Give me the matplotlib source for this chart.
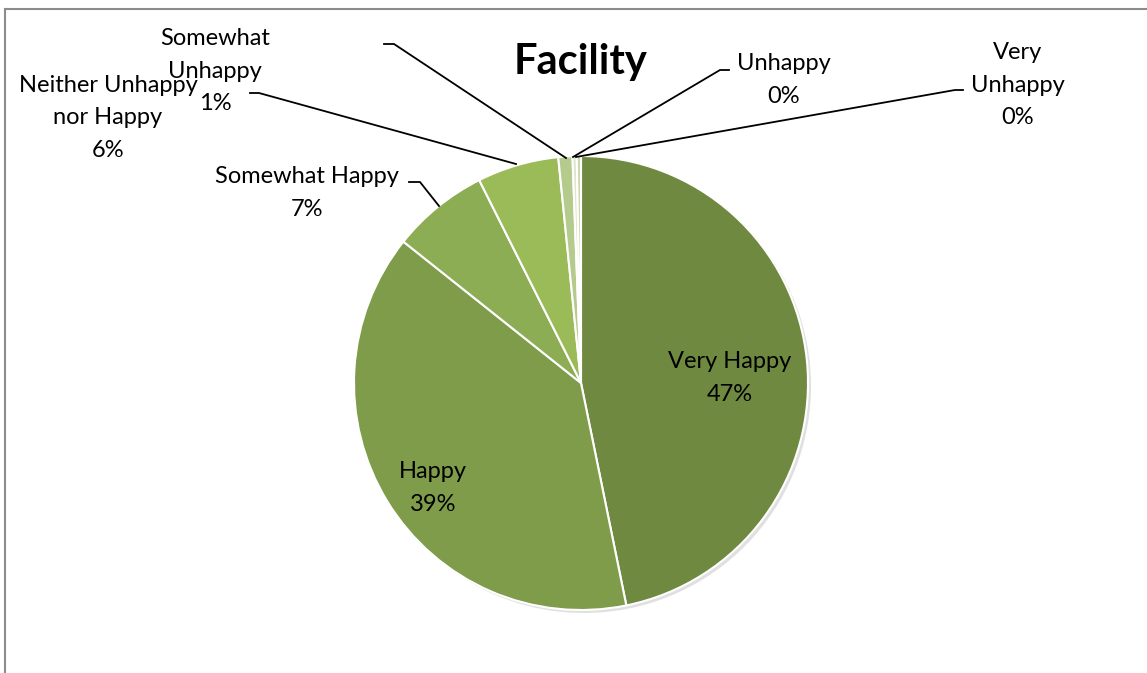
import matplotlib
matplotlib.use("Agg")
import matplotlib.pyplot as plt

categories = ["Very Happy", "Happy", "Somewhat Happy", "Neither Unhappy\nnor Happy",
              "Somewhat\nUnhappy", "Unhappy", "Very\nUnhappy"]
values = [46.8, 38.9, 6.9, 5.8, 1.0, 0.3, 0.3]
pct_labels = ["47%", "39%", "7%", "6%", "1%", "0%", "0%"]
colors = ["#6F8A40", "#7F9C4A", "#8CAD53", "#9BBB59", "#B5CB8E", "#DCE6CA", "#C9D9AA"]

W, H = 1147, 673
fig = plt.figure(figsize=(W / 100, H / 100), dpi=100)
ax = fig.add_axes([0, 0, 1, 1])
ax.set_xlim(0, W)
ax.set_ylim(0, H)
ax.axis("off")

def Y(y):
    return H - y

font = "Lato"
cx, cy, r = 581, 383, 227

# subtle shadow
ax.pie(values, startangle=90, counterclock=False, radius=r, center=(cx + 3, Y(cy) - 3),
       colors=["#e0e0e0"] * len(values), wedgeprops=dict(linewidth=0))
ax.pie(values, startangle=90, counterclock=False, radius=r, center=(cx, Y(cy)),
       colors=colors, wedgeprops=dict(edgecolor="white", linewidth=1.5))
ax.set_xlim(0, W)
ax.set_ylim(0, H)
ax.set_aspect("equal")

# frame (top and left edges)
ax.plot([5, W], [Y(9), Y(9)], color="#8c8c8c", lw=1.5, clip_on=False)
ax.plot([5, 5], [Y(9), 0], color="#8c8c8c", lw=1.5, clip_on=False)

# title
ax.text(581, Y(62), "Facility", fontsize=30, fontweight="bold", family=font,
        ha="center", va="center")

fs = 17
label_pos = [(730, 378), (433, 488), (307, 193), (108, 118), (215, 71), (784, 80), (1018, 85)]
for name, pct, (x, y) in zip(categories, pct_labels, label_pos):
    ax.text(x, Y(y), name + "\n" + pct, fontsize=fs, family=font, ha="center", va="center",
            linespacing=1.65)

# leader lines
leaders = [
    [(409, 182), (420, 182), (439, 206)],
    [(250, 93), (259, 93), (516, 164)],
    [(384, 44), (394, 44), (566, 158)],
    [(729, 70), (720, 70), (573, 157)],
    [(963, 90), (955, 90), (576, 157)],
]
for pts in leaders:
    xs = [p[0] for p in pts]
    ys = [Y(p[1]) for p in pts]
    ax.plot(xs, ys, color="black", lw=1.3)

fig.savefig("out.png", dpi=100)
